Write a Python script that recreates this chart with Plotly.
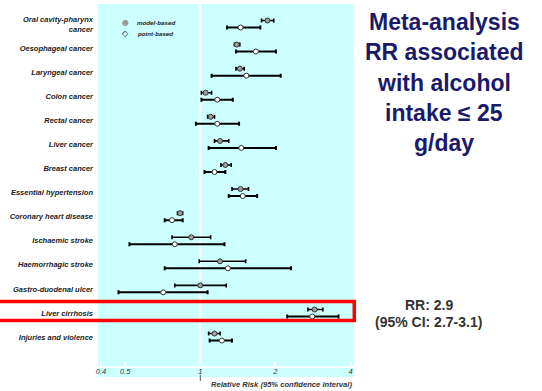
import plotly.graph_objects as go

categories = ["Oral cavity-pharynx<br>cancer", "Oesophageal cancer", "Laryngeal cancer", "Colon cancer",
              "Rectal cancer", "Liver cancer", "Breast cancer", "Essential hypertension",
              "Coronary heart disease", "Ischaemic stroke", "Haemorrhagic stroke",
              "Gastro-duodenal ulcer", "Liver cirrhosis", "Injuries and violence"]

model_rr = [1.86, 1.40, 1.44, 1.05, 1.10, 1.20, 1.26, 1.45, 0.83, 0.92, 1.20, 1.00, 2.87, 1.14]
model_lo = [1.76, 1.37, 1.39, 1.01, 1.07, 1.14, 1.21, 1.34, 0.81, 0.77, 0.99, 0.79, 2.70, 1.08]
model_hi = [1.97, 1.44, 1.50, 1.11, 1.14, 1.30, 1.33, 1.56, 0.85, 1.10, 1.52, 1.27, 3.10, 1.20]

point_rr = [1.45, 1.67, 1.53, 1.17, 1.17, 1.46, 1.14, 1.48, 0.77, 0.79, 1.29, 0.71, 2.81, 1.22]
point_lo = [1.28, 1.39, 1.11, 1.01, 0.96, 1.08, 1.04, 1.30, 0.72, 0.52, 0.72, 0.47, 2.23, 1.09]
point_hi = [1.74, 2.01, 2.10, 1.35, 1.43, 2.01, 1.26, 1.69, 0.85, 1.25, 2.31, 1.07, 3.58, 1.34]

x_ticks = [0.4, 0.5, 1, 2, 4]
title_lines = ["Meta-analysis", "RR associated", "with alcohol", "intake \u2264 25", "g/day"]
rr_lines = ["RR: 2.9", "(95% CI: 2.7-3.1)"]
highlight = "Liver cirrhosis"

rows = list(range(len(categories)))
off = 0.145
y_model = [r - off for r in rows]
y_point = [r + off for r in rows]

fig = go.Figure()
fig.add_trace(go.Scatter(
    x=model_rr, y=y_model, mode="markers", name="model-based", showlegend=False,
    marker=dict(size=5, color="#a0a0a0", line=dict(color="#333333", width=1)),
    error_x=dict(type="data", symmetric=False,
                 array=[h - m for h, m in zip(model_hi, model_rr)],
                 arrayminus=[m - l for m, l in zip(model_rr, model_lo)],
                 color="black", thickness=1.6, width=2),
))
fig.add_trace(go.Scatter(
    x=point_rr, y=y_point, mode="markers", name="point-based", showlegend=False,
    marker=dict(size=5, color="white", line=dict(color="#333333", width=1)),
    error_x=dict(type="data", symmetric=False,
                 array=[h - m for h, m in zip(point_hi, point_rr)],
                 arrayminus=[m - l for m, l in zip(point_rr, point_lo)],
                 color="black", thickness=2, width=2),
))

L, R, T, B = 98, 188, 4, 25
W, H = 542, 391
pw, ph = W - L - R, H - T - B
def px_x(px):
    return (px - L) / pw
def px_y(py):
    return (H - B - py) / ph

shapes = []
# cyan panel extending below axis
shapes.append(dict(type="rect", xref="paper", yref="paper", x0=0, x1=1, y0=px_y(377), y1=1,
                   fillcolor="#CCFFFF", line=dict(width=0), layer="below"))
# reference line at RR=1
shapes.append(dict(type="line", xref="x", yref="paper", x0=1, x1=1, y0=0, y1=1,
                   line=dict(color="white", width=2), layer="below"))
# small tick below axis at 1
shapes.append(dict(type="line", xref="x", yref="paper", x0=1, x1=1, y0=px_y(375), y1=px_y(381),
                   line=dict(color="#555555", width=1)))
# highlight box
hi_idx = categories.index(highlight)
shapes.append(dict(type="rect", xref="paper", yref="y", x0=-0.5, x1=px_x(354.3),
                   y0=hi_idx - 0.48, y1=hi_idx + 0.31,
                   line=dict(color="#FF0000", width=3.5), fillcolor="rgba(0,0,0,0)"))

annotations = []
for i, t in enumerate(title_lines):
    annotations.append(dict(text=t, xref="paper", yref="paper", x=px_x(444), y=px_y(22 + 30.3 * i),
                            xanchor="center", yanchor="middle", showarrow=False,
                            font=dict(family="Liberation Sans, Arial", size=23, color="#1a1a6b", weight="bold")))
for i, t in enumerate(rr_lines):
    annotations.append(dict(text=t, xref="paper", yref="paper", x=px_x(428.5), y=px_y(305 + 16.7 * i),
                            xanchor="center", yanchor="middle", showarrow=False,
                            font=dict(family="Liberation Sans, Arial", size=14, color="#333333", weight="bold")))
annotations.append(dict(text="Relative Risk (95% confidence interval)", xref="paper", yref="paper",
                        x=px_x(354), y=px_y(384), xanchor="right", yanchor="middle", showarrow=False,
                        font=dict(family="Liberation Sans, Arial", size=7.6, color="#333333",
                                  weight="bold", style="italic")))
# legend
leg_font = dict(family="Liberation Sans, Arial", size=6.2, color="#222222", weight="bold", style="italic")
annotations.append(dict(text="\u25CF", xref="paper", yref="paper", x=px_x(125), y=px_y(22.5),
                        xanchor="center", yanchor="middle", showarrow=False,
                        font=dict(family="DejaVu Sans", size=8, color="#999999")))
annotations.append(dict(text="<b>\u25C7</b>", xref="paper", yref="paper", x=px_x(125), y=px_y(33.3),
                        xanchor="center", yanchor="middle", showarrow=False,
                        font=dict(family="DejaVu Sans", size=8, color="#000000")))
annotations.append(dict(text="model-based", xref="paper", yref="paper", x=px_x(135), y=px_y(22.5),
                        xanchor="left", yanchor="middle", showarrow=False, font=leg_font))
annotations.append(dict(text="point-based", xref="paper", yref="paper", x=px_x(135), y=px_y(33.3),
                        xanchor="left", yanchor="middle", showarrow=False, font=leg_font))

top_px, pitch = 24.0, 24.08
y0v = (T - top_px) / pitch
y1v = (H - B - top_px) / pitch

fig.update_layout(
    width=W, height=H,
    margin=dict(l=L, r=R, t=T, b=B, pad=0),
    paper_bgcolor="white", plot_bgcolor="#CCFFFF",
    showlegend=False,
    shapes=shapes, annotations=annotations,
    xaxis=dict(type="log", range=[-0.410, 0.616], tickvals=x_ticks,
               ticktext=[str(v) for v in x_ticks],
               showgrid=False, zeroline=False, showline=True, linecolor="white", linewidth=2,
               ticks="inside", ticklen=4, tickcolor="white", tickwidth=1.5, ticklabelstandoff=-3,
               tickfont=dict(family="Liberation Sans, Arial", size=7.5, color="#333333", style="italic")),
    yaxis=dict(range=[y1v, y0v], tickvals=rows, ticktext=categories,
               showgrid=False, zeroline=False, showline=False, ticks="", ticklabelstandoff=4,
               tickfont=dict(family="Liberation Sans, Arial", size=7.5, color="#222222",
                             weight="bold", style="italic")),
)

fig.write_html("out.html", config={"displayModeBar": False},
               post_script="document.body.style.margin='0';")
